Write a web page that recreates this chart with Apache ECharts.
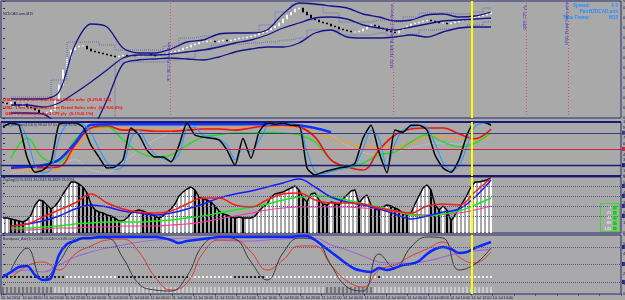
<!DOCTYPE html>
<html><head><meta charset="utf-8">
<script src="https://cdn.jsdelivr.net/npm/echarts@6/dist/echarts.min.js"></script>
<style>html,body{margin:0;padding:0;background:#a9a9a9;overflow:hidden}#c{width:625px;height:300px}</style>
</head><body><div id="c"></div>
<script>
// ---------------- DATA ----------------
const firstOpen = 0.9396;
const closeP = [0.9395,0.9394,0.9396,0.9393,0.9392,0.9394,0.9391,0.9390,0.9388,0.9385,
0.9384,0.9386,0.9388,0.9398,0.9413,0.9428,0.9440,0.9448,0.9451,0.9452,
0.9452,0.9449,0.9447,0.9446,0.9445,0.9444,0.9443,0.9442,0.9441,0.9442,
0.9443,0.9442,0.9443,0.9442,0.9442,0.9443,0.9444,0.9443,0.9442,0.9443,
0.9444,0.9445,0.9446,0.9447,0.9448,0.9450,0.9451,0.9453,0.9454,0.9456,
0.9456,0.9457,0.9457,0.9456,0.9457,0.9458,0.9457,0.9458,0.9459,0.9460,
0.9460,0.9461,0.9462,0.9463,0.9465,0.9466,0.9468,0.9470,0.9472,0.9475,
0.9479,0.9483,0.9486,0.9489,0.9490,0.9486,0.9483,0.9480,0.9478,0.9476,
0.9475,0.9474,0.9472,0.9471,0.9469,0.9468,0.9467,0.9466,0.9466,0.9467,
0.9469,0.9471,0.9473,0.9472,0.9470,0.9469,0.9467,0.9466,0.9465,0.9468,
0.9470,0.9472,0.9474,0.9475,0.9476,0.9477,0.9478,0.9477,0.9476,0.9475,
0.9475,0.9474,0.9475,0.9476,0.9477,0.9478,0.9479,0.9480,0.9481,0.9482,
0.9483,0.9484,0.9486];
const bandUpper = [0.9399,0.9399,0.9399,0.9406,0.9453,0.9474,0.9471,0.9450,0.9445,0.9445,0.9449,0.9456,0.9458,0.9464,0.9465,0.9465,0.9468,0.9484,0.9495,0.9494,0.9492,0.9490,0.9484,0.9481,0.9477,0.9478,0.9483,0.9484,0.9481,0.9482,0.9486];
const bandMiddle = [0.9393,0.9393,0.9391,0.9395,0.9405,0.9416,0.9428,0.9440,0.9443,0.9443,0.9444,0.9446,0.9448,0.9451,0.9455,0.9458,0.9463,0.9470,0.9475,0.9480,0.9481,0.9479,0.9473,0.9470,0.9468,0.9471,0.9474,0.9477,0.9478,0.9479,0.9480];
const bandLower = [0.9385,0.9385,0.9384,0.9373,0.9363,0.9368,0.9398,0.9434,0.9438,0.9439,0.9440,0.9439,0.9438,0.9441,0.9446,0.9449,0.9451,0.9451,0.9455,0.9465,0.9468,0.9461,0.9460,0.9460,0.9461,0.9463,0.9461,0.9466,0.9470,0.9471,0.9471];
const chanUpper = [0.9401,0.9401,0.9401,0.9418,0.9456,0.9456,0.9453,0.9448,0.9448,0.9448,0.9452,0.9460,0.9462,0.9464,0.9465,0.9466,0.9473,0.9486,0.9494,0.9493,0.9485,0.9476,0.9476,0.9478,0.9476,0.9481,0.9485,0.9485,0.9484,0.9486,0.9490];
const chanLower = [0.9386,0.9384,0.9380,0.9380,0.9380,0.9380,0.9380,0.9436,0.9436,0.9436,0.9438,0.9440,0.9448,0.9453,0.9454,0.9455,0.9456,0.9458,0.9460,0.9468,0.9468,0.9463,0.9463,0.9465,0.9462,0.9464,0.9468,0.9469,0.9470,0.9473,0.9476];
const hLinePrice = 0.9484;

const oscBlack = [91,98,94,35,7,11,26,96,98,98,91,57,35,15,17,30,89,76,48,35,35,26,57,98,76,72,70,67,48,20,70,33,81,98,96,98,94,94,15,2,7,11,15,17,24,70,94,44,6,85,81,94,94,85,39,15,7,30,76,100,100,94];
const oscBlue = [94,96,97,70,20,5,12,70,96,98,96,80,50,25,12,18,70,85,60,40,32,28,40,88,90,75,72,68,58,30,50,45,65,92,97,97,96,95,45,8,4,8,12,15,20,50,85,70,15,60,85,90,94,90,60,25,10,18,55,92,98,96];
const oscGreen = [33,70,33,26,67,89,91,67,44,35,39,57,72,76,80,80,81,80,76,63,30,15,24,39,44,63,76,63,54,61,80];
const oscRed = [19,17,15,17,57,89,93,85,85,83,83,85,87,87,85,89,93,94,91,72,30,17,11,48,76,87,89,89,78,69,87];
const oscOrange = [11,11,9,15,48,81,89,89,87,85,85,87,89,89,89,91,91,91,89,81,70,61,56,54,54,61,72,74,69,67,74];
const oscTrend = [15,17,20,30,61,95,96,96,96,96,96,96,96,96,96,96,96,96,94,89,81,null,null,null,null,null,null,null,null,null,null];
const oscFaint = [7,11,15,20,30,11,7,26,48,67,81,93,96,98,96,94,96,98,96,93,76,57,44,39,44,52,59,61,59,67,72];
const oscLevels = [100,80,50,20,0];

const histV = [15,15,14,13,12,11,13,18,28,33,
32,28,24,27,32,39,45,51,51,49,
46,40,29,23,21,20,18,17,15,12,
12,15,20,22,23,22,20,19,17,15,
17,21,24,29,37,41,44,46,43,36,
34,33,31,27,22,19,18,16,15,16,
15,15,15,17,22,26,29,36,39,40,
41,43,45,47,43,35,31,39,40,33,
29,28,31,30,28,34,38,42,43,30,
35,38,28,24,23,26,28,27,25,23,
20,18,20,29,37,45,48,43,28,23,
27,23,12,18,25,31,38,46,51,51,
52,53,55];
const maRed = [7,9,16,23,30,39,30,24,21,20,22,29,35,35,28,26,33,39,40,33,30,30,29,25,22,20,27,29,28,41,55];
const maBlue = [7,9,12,17,24,28,26,22,20,18,20,24,29,35,39,42,46,50,54,46,36,31,28,24,19,14,17,21,24,36,53];
const maGreen = [5,5,6,7,9,10,11,11,11,12,13,15,17,20,23,26,29,33,36,37,36,33,29,26,22,18,17,19,22,28,35];
const maPink = [3,3,4,5,5,6,6,7,7,7,8,9,11,14,17,20,23,25,26,26,26,26,25,24,21,19,18,19,20,23,27];
const histLevels = [17,27,37,47];
const maPeriods = [7,21,42,89,144];

const bpBlue = [17,22,27,28,19,14,16,39,50,53,56,56,57,57,57,57,57,57,57,57,56,54,51,53,54,55,56,57,57,57,57,57,57,57,57,57,57,58,58,54,48,42,36,30,25,23,22,26,24,26,29,30,33,40,45,47,45,41,42,46,49,52];
const bpBlack = [24,46,14,32,53,56,56,36,10,4,3,18,49,57,55,32,14,41,56,54,29,7,3,40,26,47,57,56,24,30,46];
const bpRed = [16,28,32,24,40,48,54,55,42,17,4,11,41,54,54,42,24,34,48,48,29,13,7,24,29,38,45,52,37,31,42];
const bpPurple = [21,24,22,29,37,42,46,49,52,54,55,56,56,54,53,53,54,55,56,56,49,44,38,32,31,31,33,37,41,43,45];
const bpLevels = [12,30,47];
const dotRow = 17;
const dotRuns = [[16,0],[13,1],[18,0],[11,1],[8,0],[28,1],[1,0],[28,1]]; // 0 = black, 1 = white
const tickRow = 4;
const tickRuns = [[13,0],[68,1],[12,0],[30,1]];

const timeLabels = ['10 Jul 2014','10 Jul 18:00','10 Jul 20:00','10 Jul 22:00','11 Jul 00:00','11 Jul 02:00','11 Jul 04:00','11 Jul 06:00','11 Jul 08:00','11 Jul 10:00','11 Jul 12:00','11 Jul 14:00','11 Jul 16:00','11 Jul 18:00','11 Jul 20:00','11 Jul 22:00','14 Jul 00:00','14 Jul 02:00','14 Jul 04:00','14 Jul 06:00','14 Jul 08:00','14 Jul 10:00','14 Jul 12:00','14 Jul 14:00'];
const nowBar = 117.25;
const eventBars = [41.75, 97.5, 130.75, 141.25];
const eventNames = ['JPY: BOJ Policy Rate','NZD: NZIER Business Confidence','GBP: CPI y/y','USD: Retail Sales m/m'];
const newsLines = ['USD: 1 hrs 8 min until Retail Sales m/m  (0.2%/0.1%)','USD: 1 hrs 8 min until Core Retail Sales m/m  (0.1%/0.6%)','GBP: 3 hrs 8 min until CPI y/y  (0.1%/2.1%)'];
const infoLabels = ['Spread:','Pair:','Time Frame:'];
const infoValues = ['6.0','NZDCAD.arm','M15'];
const panelTitles = ['NZDCAD.arm,M15','Dss_Bressert(13,8,9) 98.04 97.51 89.21 91.40','ZigZag(5) 55.8231 46.0543 36.4829 28.1094','Bandpass_Ash(1) 0.0036 0.0040 0.0036 0.0002 0.0025'];

// ---------------- HELPERS ----------------
const FONT = 'Liberation Sans';
const slow = a => a.map((v,i)=>[2+i*4, v]);
const fast = a => a.map((v,i)=>[i*2, v]);
const perBar = a => a.map((v,i)=>[i, v]);
const expandRuns = runs => { const out=[]; runs.forEach(([n,s])=>{for(let k=0;k<n;k++) out.push(s);}); return out; };
const dotState = expandRuns(dotRuns);
const tickState = expandRuns(tickRuns);

const grids = [
  {left:1, width:620, top:1, height:117},
  {left:1, width:620, top:122, height:54},
  {left:1, width:620, top:177, height:56},
  {left:1, width:620, top:235, height:59}
].map(g=>Object.assign(g,{show:true, borderColor:'#2a2a6e', borderWidth:1, backgroundColor:'transparent', containLabel:false, outerBoundsMode:'none'}));

const xAxes = [0,1,2,3].map(i=>({type:'value', gridIndex:i, min:-0.5, max:154.5, show:false}));
const padLabels = timeLabels.concat(new Array(30-timeLabels.length).fill(''));
xAxes.push({type:'category', gridIndex:3, data:padLabels, boundaryGap:false, position:'bottom',
  axisLine:{show:false}, axisTick:{show:true, length:1.5, lineStyle:{color:'#2a2a5a'}},
  axisLabel:{show:true, interval:0, fontSize:3.7, color:'#15153a', align:'left', margin:1.5, fontFamily:FONT}, splitLine:{show:false}});

const yBase = {position:'right', splitLine:{show:false}, axisLine:{show:false},
  axisTick:{show:true, length:2, lineStyle:{color:'#2a2a6a'}},
  axisLabel:{show:true, fontSize:4, margin:2, color:'#202050', fontFamily:FONT}};
const yAxes = [
  Object.assign({type:'value', gridIndex:0, min:0.938, max:0.9497, interval:0.001}, yBase),
  Object.assign({type:'value', gridIndex:1, min:0, max:100, interval:10}, yBase),
  Object.assign({type:'value', gridIndex:2, min:0, max:56, interval:10}, yBase),
  Object.assign({type:'value', gridIndex:3, min:0, max:59, interval:10}, yBase)
];

const ml = data => ({silent:true, symbol:['none','none'], animation:false, label:{show:false}, data});
const yellow = {xAxis: nowBar, lineStyle:{color:'#ffff00', width:2, type:'solid'}};
const tag = c => ({show:true, position:'end', formatter:' ', backgroundColor:c, padding:[0.5,1], fontSize:3, distance:1});
const line = (g, data, color, width, extra) => Object.assign({type:'line', xAxisIndex:g, yAxisIndex:g, data,
  showSymbol:false, symbol:'none', lineStyle:{color, width}, animation:false}, extra||{});

// candles
const candleData = closeP.map((c,i)=>{ const o = i===0 ? firstOpen : closeP[i-1]; return [i, o, c, Math.min(o,c), Math.max(o,c)]; });
// histogram
const histData = histV.map((v,i)=>({value:[i,v], itemStyle:{color: (i>0 && v<histV[i-1]) ? '#000000' : '#ffffff'}}));

const series = [];
// ---- Panel 1
series.push(line(0, slow(chanUpper), '#6a6ab4', 1, {step:'middle', lineStyle:{color:'#6a6ab4', width:1, type:'dotted'}}));
series.push(line(0, slow(chanLower), '#6a6ab4', 1, {step:'middle', lineStyle:{color:'#6a6ab4', width:1, type:'dotted'},
  markLine: ml([
    {yAxis: hLinePrice, lineStyle:{color:'#7a7a7a', width:1, type:[5,2,1,2]}, label:tag('#22227a')},
    ...eventBars.map(b=>({xAxis:b, lineStyle:{color:'#e05050', width:1, type:[1,2]}}))
  ])}));
series.push(line(0, slow(bandUpper), '#14148a', 1.3, {smooth:0.3}));
series.push(line(0, slow(bandMiddle), '#14148a', 1.3, {smooth:0.3}));
series.push(line(0, slow(bandLower), '#14148a', 1.3, {smooth:0.3}));
series.push({type:'candlestick', xAxisIndex:0, yAxisIndex:0, data:candleData, barWidth:2.4, animation:false,
  itemStyle:{color:'#ffffff', color0:'#000000', borderColor:'#f4f4f4', borderColor0:'#000000', borderWidth:1},
  markLine: ml([yellow])});

// ---- Panel 2
const lvlColors = ['#1a1a78','#3c3c84','#d41c3c','#1a1a78','#1a1a78'];
const lvlWidths = [2,1,1,1.4,2];
series.push(line(1, slow(oscFaint), '#c4cbe6', 1, {smooth:0.4, lineStyle:{color:'#c4cbe6', width:1, type:'dotted'},
  markLine: ml(oscLevels.map((v,i)=>({yAxis:v, lineStyle:{color:lvlColors[i], width:lvlWidths[i], type:'solid'},
    label: (i>0 && i<4) ? tag(lvlColors[i]) : {show:false}})))}));
series.push(line(1, slow(oscOrange), '#ff9a1a', 1.2, {smooth:0.4}));
series.push(line(1, slow(oscGreen), '#18e018', 1.3, {smooth:0.4}));
series.push(line(1, slow(oscRed), '#ee1111', 1.6, {smooth:0.4}));
series.push(line(1, slow(oscTrend), '#1430ff', 2.5, {smooth:0.3}));
series.push(line(1, fast(oscBlue), '#2f9bff', 1.2, {smooth:0.25}));
series.push(line(1, fast(oscBlack), '#000000', 1.5, {smooth:0.2, markLine: ml([yellow])}));

// ---- Panel 3
series.push({type:'bar', xAxisIndex:2, yAxisIndex:2, data:histData, barWidth:2, animation:false,
  markLine: ml(histLevels.map(v=>({yAxis:v, lineStyle:{color:'#55558e', width:1, type:'dotted'}, label:tag('#2a2a7a')})))});
series.push(line(2, perBar(histV), '#000000', 1.4));
series.push(line(2, slow(maPink), '#ff3399', 1.2, {smooth:0.4}));
series.push(line(2, slow(maGreen), '#10ee10', 1.4, {smooth:0.4}));
series.push(line(2, slow(maBlue), '#1a1aff', 1.5, {smooth:0.4}));
series.push(line(2, slow(maRed), '#ff1a1a', 1.5, {smooth:0.4, markLine: ml([yellow])}));

// ---- Panel 4
series.push({type:'scatter', xAxisIndex:3, yAxisIndex:3, symbol:'rect', symbolSize:[1,6], animation:false,
  data: tickState.map((s,i)=>({value:[i,tickRow], itemStyle:{color: s? '#ffffff':'#2a2a2a'}})),
  markLine: ml(bpLevels.map(v=>({yAxis:v, lineStyle:{color:'#55558e', width:1, type:'dotted'}, label:tag('#2a2a7a')})))});
series.push({type:'scatter', xAxisIndex:3, yAxisIndex:3, symbol:'rect', symbolSize:2, animation:false,
  data: dotState.map((s,i)=>({value:[i,dotRow], itemStyle:{color: s? '#ffffff':'#000000'}}))});
series.push(line(3, slow(bpPurple), '#9a6ad4', 1.2, {smooth:0.4}));
series.push(line(3, slow(bpRed), '#e03a3a', 1, {smooth:0.45}));
series.push(line(3, slow(bpBlack), '#3a3a3a', 1, {smooth:0.45}));
series.push(line(3, fast(bpBlue), '#0a28ff', 2.5, {smooth:0.3, markLine: ml([yellow])}));

const option = {backgroundColor:'#a9a9a9', animation:false, grid:grids, xAxis:xAxes, yAxis:yAxes, series};
const chart = echarts.init(document.getElementById('c'), null, {renderer:'canvas', width:625, height:300});
chart.setOption(option);

// ---------------- TEXT OVERLAYS ----------------
const txt = (x,y,text,fill,size,opts) => ({type:'text', x, y, silent:true, z:100,
  style:Object.assign({text, fill, fontSize:size, fontFamily:FONT, textAlign:'left', align:'left', textVerticalAlign:'middle', verticalAlign:'middle'}, opts||{})});
const g = [];
const titleY = [14, 125, 180, 239];
panelTitles.forEach((t,i)=>g.push(txt(3, titleY[i], t, '#1c1c50', 3.6)));
const newsY = [100, 107.3, 113.6];
newsLines.forEach((t,i)=>g.push(txt(i===2?5:3, newsY[i], t, '#ff0a0a', 4.4, {fontWeight:'bold'})));
const infoY = [5.5, 11.5, 17.5];
infoLabels.forEach((t,i)=>g.push(txt(590, infoY[i], t, '#2a8cff', 4.6, {fontWeight:'bold', textAlign:'right', align:'right'})));
infoValues.forEach((t,i)=>g.push(txt(618, infoY[i], t, '#2a8cff', 4.6, {fontWeight:'bold', textAlign:'right', align:'right'})));
const evTop = [42, 4, 5, 2];
eventBars.forEach((b,i)=>{
  const x = chart.convertToPixel({xAxisIndex:0}, b) - 1;
  g.push({type:'text', x, y:evTop[i], rotation:Math.PI/2, silent:true, z:100,
    style:{text:eventNames[i], fill:'#3434d8', fontSize:4.2, fontFamily:FONT, textAlign:'right', align:'right', textVerticalAlign:'middle', verticalAlign:'middle'}});
});
// MA period legend box
g.push({type:'rect', silent:true, z:100, shape:{x:600.5, y:203.5, width:19, height:28}, style:{fill:'none', stroke:'#38d838', lineWidth:1}});
maPeriods.forEach((p,k)=>{
  const y = 207.6 + k*5.2;
  g.push(txt(611.5, y, String(p), '#f2f2f2', 4.3, {textAlign:'right', align:'right'}));
  g.push({type:'rect', silent:true, z:100, shape:{x:613, y:y-1.8, width:3.6, height:3.6}, style:{fill:'#00dd00'}});
});
chart.setOption({graphic: g});
</script></body></html>
